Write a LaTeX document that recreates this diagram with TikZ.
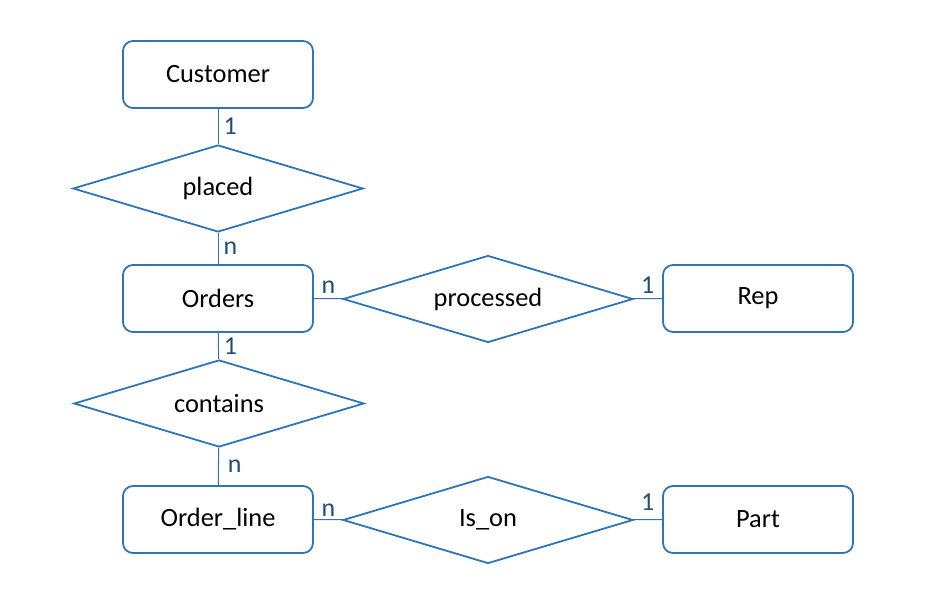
\documentclass[tikz,border=0pt]{standalone}
\usepackage{fontspec}
\setmainfont{Carlito}
\usetikzlibrary{shapes.geometric}
\definecolor{erblue}{RGB}{46,117,182}
\definecolor{cardblue}{RGB}{31,78,121}

\begin{document}
\begin{tikzpicture}[
  x=1bp, y=-1bp,
  entity/.style={rectangle, rounded corners=10bp, draw=erblue, line width=1.8bp, minimum width=190bp, minimum height=67bp, font=\fontsize{26.5}{30}\selectfont},
  relation/.style={diamond, aspect=3.33, draw=erblue, line width=1.8bp, inner sep=0pt, minimum width=290bp, minimum height=87bp, font=\fontsize{26.5}{30}\selectfont},
  link/.style={draw=erblue, line width=1bp},
  card/.style={text=cardblue, font=\fontsize{26}{30}\selectfont, inner sep=5bp}
]
  \useasboundingbox (0,0) rectangle (935,609);
  \node[entity] (customer) at (218, 74.5)  {Customer};
  \node[entity] (orders)   at (218, 298.5) {Orders};
  \node[entity] (rep)      at (758, 298.5) {Rep};
  \node[entity] (oline)    at (218, 519.5) {Order\_line};
  \node[entity] (part)     at (758, 519.5) {Part};
  \node[relation] (placed)    at (218, 188.5) {placed};
  \node[relation] (contains)  at (219, 403.5) {contains};
  \node[relation] (processed) at (488, 299)   {processed};
  \node[relation] (ison)      at (488, 520)   {Is\_on};
  % cardinalities: Customer 1-n Orders, Orders n-1 Rep, Orders 1-n Order_line, Order_line n-1 Part
  \draw[link] (customer) -- node[card, right] {1} (placed);
  \draw[link] (placed) -- node[card, right] {n} (orders);
  \draw[link] (orders) -- node[card, above] {n} (processed);
  \draw[link] (processed) -- node[card, above] {1} (rep);
  \draw[link] (orders) -- node[card, right] {1} (contains);
  \draw[link] (contains) -- node[card, right, xshift=4bp] {n} (oline);
  \draw[link] (oline) -- node[card, above, yshift=-2bp] {n} (ison);
  \draw[link] (ison) -- node[card, above, yshift=4bp] {1} (part);
\end{tikzpicture}
\end{document}
